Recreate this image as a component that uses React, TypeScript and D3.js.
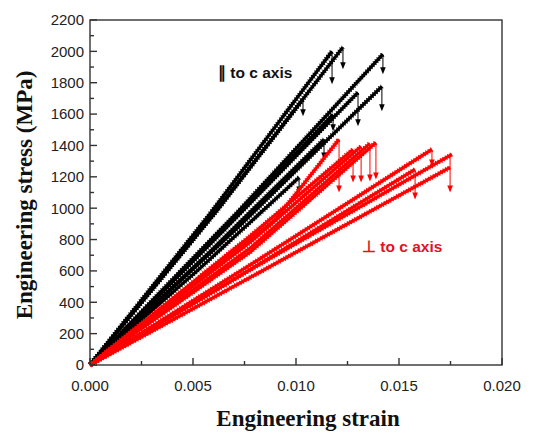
import React from 'react';
import * as d3 from 'd3';

const width = 546;
const height = 433;
const margin = { top: 20, right: 44, bottom: 68, left: 90 };

// axis ticks
const xTicks = [0, 0.005, 0.01, 0.015, 0.02];
const xMinor = [0.0025, 0.0075, 0.0125, 0.0175];
const yTicks = [0, 200, 400, 600, 800, 1000, 1200, 1400, 1600, 1800, 2000, 2200];
const yMinor = [100, 300, 500, 700, 900, 1100, 1300, 1500, 1700, 1900, 2100];

// loading curves parallel to c axis: [strain, stress MPa]
const parA1 = [[0, 0], [0.0058, 960], [0.01175, 2001]];
const parA2 = [[0, 0], [0.0062, 990], [0.01228, 2027]];
const parA3 = [[0, 0], [0.0050, 800], [0.01034, 1694]];
const parB1 = [[0, 0], [0.0072, 980], [0.01422, 1982]];
const parB2 = [[0, 0], [0.0072, 880], [0.01417, 1777]];
const parB3 = [[0, 0], [0.0065, 860], [0.01301, 1739]];
const parB4 = [[0, 0], [0.0060, 800], [0.01180, 1598]];
const parB5 = [[0, 0], [0.0058, 720], [0.01136, 1439]];
const parB6 = [[0, 0], [0.0052, 600], [0.01015, 1196]];
const parCurves = [parA1, parA2, parA3, parB1, parB2, parB3, parB4, parB5, parB6];
// load drops at fracture: [strain, from stress, to stress]
const parDrops = [
  [0.01175, 1990, 1790], [0.01228, 2015, 1886], [0.01034, 1685, 1586],
  [0.01422, 1972, 1854], [0.01417, 1768, 1618], [0.01301, 1730, 1522],
  [0.01180, 1590, 1490], [0.01136, 1430, 1311], [0.01015, 1188, 1093],
];

// loading curves perpendicular to c axis
const perR1 = [[0, 0], [0.0090, 927], [0.01209, 1439]];
const perR2 = [[0, 0], [0.0078, 825], [0.01277, 1375]];
const perR3 = [[0, 0], [0.0078, 786], [0.01316, 1394]];
const perR4 = [[0, 0], [0.0078, 748], [0.01359, 1413]];
const perR5 = [[0, 0], [0.0078, 723], [0.01388, 1419]];
const perL1 = [[0, 0], [0.0078, 640], [0.01660, 1375]];
const perL2 = [[0, 0], [0.0078, 610], [0.01757, 1343]];
const perL3 = [[0, 0], [0.0078, 610], [0.01578, 1247]];
const perL4 = [[0, 0], [0.0078, 560], [0.01748, 1260]];
const perCurves = [perR1, perR2, perR3, perR4, perR5, perL1, perL2, perL3, perL4];
const perDrops = [
  [0.01209, 1430, 1100], [0.01277, 1366, 1164], [0.01316, 1385, 1164],
  [0.01359, 1405, 1170], [0.01388, 1410, 1183], [0.01660, 1366, 1266],
  [0.01748, 1335, 1100], [0.01578, 1240, 1055],
];

const x = d3.scaleLinear().domain([0, 0.02]).range([margin.left, width - margin.right]);
const y = d3.scaleLinear().domain([0, 2200]).range([height - margin.bottom, margin.top]);

const line = d3.line<number[]>()
  .x(d => x(d[0]))
  .y(d => y(d[1]));

const sans = "Arial, 'Liberation Sans', sans-serif";
const serif = "'Times New Roman', 'Liberation Serif', serif";
const RED = '#ff0000';

function Curve({ pts, color }: { pts: number[][]; color: string }) {
  const d = line(pts) || '';
  return (
    <g>
      <path d={d} fill="none" stroke={color} strokeWidth={3.2} />
      <path d={d} fill="none" stroke={color} strokeWidth={5} strokeDasharray="1 1.8" />
    </g>
  );
}

function Drop({ drop, color }: { drop: number[]; color: string }) {
  const px = x(drop[0]);
  const y0 = y(drop[1]);
  const y1 = y(drop[2]);
  return (
    <g>
      <line x1={px} x2={px} y1={y0} y2={y1 - 6} stroke={color} strokeWidth={1} />
      <path d={`M${px - 2.8},${y1 - 7} L${px + 2.8},${y1 - 7} L${px},${y1} Z`} fill={color} />
    </g>
  );
}

export default function App() {
  const x0 = margin.left;
  const x1 = width - margin.right;
  const y0 = height - margin.bottom;
  const y1 = margin.top;
  return (
    <svg width={width} height={height} style={{ position: 'absolute', left: 0, top: 0, background: '#fff' }}>
      <g>
        {parCurves.map((c, i) => <Curve key={'p' + i} pts={c} color="#000" />)}
        {parDrops.map((d, i) => <Drop key={'pd' + i} drop={d} color="#000" />)}
        {perCurves.map((c, i) => <Curve key={'r' + i} pts={c} color={RED} />)}
        {perDrops.map((d, i) => <Drop key={'rd' + i} drop={d} color={RED} />)}
      </g>

      <rect x={x0} y={y1} width={x1 - x0} height={y0 - y1} fill="none" stroke="#333" strokeWidth={1.4} />

      {xTicks.map(t => (
        <g key={'xt' + t}>
          <line x1={x(t)} x2={x(t)} y1={y0} y2={y0 - 7} stroke="#333" strokeWidth={1.4} />
          <text x={x(t)} y={391} textAnchor="middle" fontFamily={sans} fontSize={15} fill="#222">
            {d3.format('.3f')(t)}
          </text>
        </g>
      ))}
      {xMinor.map(t => (
        <line key={'xm' + t} x1={x(t)} x2={x(t)} y1={y0} y2={y0 - 4} stroke="#333" strokeWidth={1.4} />
      ))}
      {yTicks.map(t => (
        <g key={'yt' + t}>
          <line x1={x0} x2={x0 + 7} y1={y(t)} y2={y(t)} stroke="#333" strokeWidth={1.4} />
          <text x={84} y={y(t)} dy="0.36em" textAnchor="end" fontFamily={sans} fontSize={15} fill="#222">
            {t}
          </text>
        </g>
      ))}
      {yMinor.map(t => (
        <line key={'ym' + t} x1={x0} x2={x0 + 4} y1={y(t)} y2={y(t)} stroke="#333" strokeWidth={1.4} />
      ))}

      <text x={308} y={426} textAnchor="middle" fontFamily={serif} fontWeight="bold" fontSize={23} fill="#111">
        Engineering strain
      </text>
      <text transform="translate(32,195) rotate(-90)" textAnchor="middle" fontFamily={serif} fontWeight="bold" fontSize={23} fill="#111">
        Engineering stress (MPa)
      </text>

      <text x={218} y={78} fontFamily={sans} fontWeight="bold" fontSize={15.5} fill="#111">
        ∥ to c axis
      </text>
      <text x={362} y={252} fontFamily={sans} fontWeight="bold" fontSize={15.5} fill="#e3101f">
        ⊥ to c axis
      </text>
    </svg>
  );
}
